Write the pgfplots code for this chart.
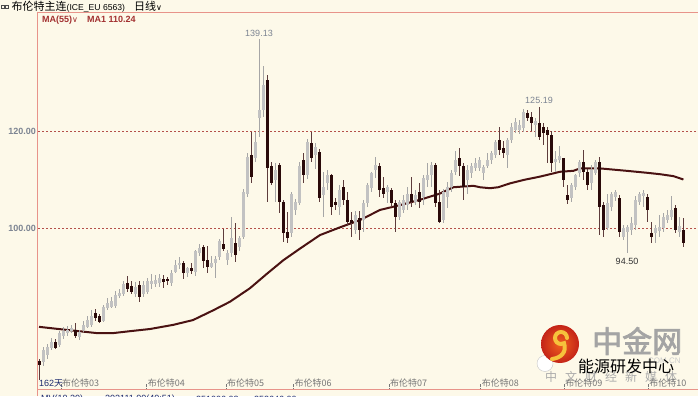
\documentclass[border=0pt]{standalone}
\usepackage{fontspec}
\setmainfont{Liberation Sans}
\newfontfamily\cjk{Noto Sans CJK SC}
\newfontfamily\cjkb[FakeBold=2.5]{Noto Sans CJK SC}
\newfontfamily\dv{DejaVu Sans}
\usepackage{pgfplots}
\usepackage{pgfplotstable}
\pgfplotsset{compat=1.18}
\definecolor{bg}{HTML}{FDF9E9}
\definecolor{axred}{HTML}{E8948A}
\definecolor{gridred}{HTML}{B4504A}
\definecolor{tickgray}{HTML}{7C8492}
\definecolor{upbody}{HTML}{C2C2C2}
\definecolor{upwick}{HTML}{A6A6A6}
\definecolor{dnbody}{HTML}{2A0A0A}
\definecolor{dnwick}{HTML}{5E3C3C}
\definecolor{maline}{HTML}{4A1212}
\definecolor{matext}{HTML}{A23030}
\definecolor{xlab}{HTML}{767676}
\definecolor{navy}{HTML}{1C2A6E}
\definecolor{wmgray}{HTML}{A4A4A4}
\definecolor{wmlight}{HTML}{ABABAB}
\definecolor{swirl}{HTML}{F6C23C}
\definecolor{logoin}{HTML}{F0601E}
\definecolor{logoout}{HTML}{C42418}

\pgfplotstableread{
i O H L C
1 72.3 75.5 71.5 74.8
2 73.8 76.0 73.0 75.5
3 75.3 77.2 74.8 76.5
5 75.8 78.8 75.5 78.3
6 77.8 79.5 77.0 78.7
7 78.3 79.8 77.8 79.0
8 78.8 80.0 78.3 79.3
10 77.6 79.0 76.8 78.6
11 79.0 80.8 78.6 80.0
12 79.6 81.8 79.3 81.0
13 80.0 83.0 79.5 81.8
16 80.9 84.2 80.5 83.7
17 83.5 85.5 83.0 84.6
18 83.8 85.8 83.5 84.9
19 83.9 87.0 83.5 86.2
20 86.0 87.5 85.6 86.6
21 86.5 89.0 86.0 88.5
24 86.5 88.8 85.8 87.9
26 86.5 89.0 85.8 88.2
27 86.9 89.8 86.3 89.0
28 88.4 90.5 87.5 89.1
29 88.5 90.4 87.8 89.2
30 88.6 90.6 87.8 89.7
33 88.7 91.3 88.0 90.8
34 91.0 93.5 90.8 92.4
35 92.3 94.0 91.6 92.9
37 90.7 92.0 89.9 91.7
39 91.0 95.6 90.1 95.2
40 94.9 96.7 94.2 95.9
43 92.0 94.2 91.7 92.9
44 92.8 94.2 89.8 93.6
45 94.1 97.8 93.5 97.4
47 93.4 95.6 92.3 94.8
48 94.8 102.4 94.0 97.9
50 96.2 98.5 95.4 97.9
51 98.3 108.2 97.8 107.6
52 107.2 115.5 106.5 114.8
54 114.5 120.0 113.8 117.9
55 122.8 139.13 119.0 124.5
56 124.5 133.5 123.0 129.7
59 110.0 113.5 105.5 112.1
63 99.0 107.6 98.1 107.2
64 103.8 106.1 102.8 105.5
65 105.2 113.7 104.8 112.8
67 111.0 118.5 110.3 117.9
69 115.2 117.6 112.2 116.9
71 106.9 111.7 102.4 108.6
72 109.3 112.0 108.0 111.0
75 104.5 108.9 102.8 107.9
79 99.6 103.5 98.9 102.8
81 101.7 105.9 99.3 105.2
82 105.2 109.3 104.5 109.0
83 108.3 111.7 107.6 111.4
84 112.1 114.7 110.5 113.1
87 107.6 109.0 105.2 108.6
90 102.4 105.9 101.7 105.4
91 103.8 106.9 103.1 105.9
92 104.8 108.6 103.8 107.2
94 105.5 108.0 104.8 106.9
96 106.5 111.0 104.8 110.4
97 110.0 113.6 108.6 111.0
98 111.0 113.8 108.6 113.1
101 101.7 108.2 101.0 107.6
102 106.5 109.6 104.1 108.6
103 108.6 112.0 107.6 111.4
104 111.7 116.0 111.0 114.1
107 110.0 113.2 107.2 112.1
108 111.4 113.5 110.5 112.9
109 112.4 114.5 111.8 113.5
110 112.4 114.8 111.8 114.1
111 111.4 113.2 110.1 112.6
112 112.9 115.6 112.4 114.1
113 114.1 116.0 113.3 115.5
114 115.2 118.3 114.5 117.9
117 115.2 118.6 112.4 118.3
118 118.3 121.7 117.6 121.0
119 120.4 122.8 119.7 122.1
120 120.4 122.4 119.5 121.4
121 120.7 124.6 119.9 124.1
124 121.4 122.8 119.0 122.2
129 113.8 116.1 111.7 114.4
130 114.1 117.0 113.5 115.0
133 106.2 109.3 105.5 109.0
134 108.6 111.3 107.9 111.0
135 111.4 114.1 110.7 113.8
138 109.3 113.1 107.9 112.1
139 111.4 114.1 111.0 113.8
142 100.0 107.2 99.6 105.2
143 104.5 107.6 103.5 107.2
144 106.5 107.9 105.7 107.6
146 98.3 100.7 97.6 100.0
147 99.3 100.7 94.8 100.2
148 99.6 102.4 98.6 101.0
149 100.7 106.6 99.6 105.9
150 105.5 107.6 104.8 107.2
151 106.6 107.9 104.5 107.3
154 99.0 100.7 96.9 100.0
155 99.5 102.7 98.3 100.2
156 100.0 103.1 99.3 102.4
157 101.7 103.8 101.0 102.8
158 102.4 106.6 101.7 103.8
160 99.3 102.4 98.3 100.5
}\upc

\pgfplotstableread{
i O H L C
0 72.5 73.0 68.5 71.8
4 76.5 77.0 75.0 75.3
9 79.0 80.3 77.3 77.8
14 82.5 83.2 80.8 81.4
15 81.8 82.2 80.3 80.7
22 88.6 90.2 86.8 87.4
23 88.0 89.0 86.3 86.9
25 88.2 89.0 84.8 85.8
31 89.6 90.4 87.6 88.9
32 89.5 90.0 88.3 89.0
36 92.8 93.2 89.5 90.7
38 91.7 92.8 90.5 91.2
41 96.1 96.5 91.8 93.3
42 93.4 96.3 90.8 91.9
46 96.7 99.8 95.3 95.7
49 96.9 101.2 93.1 94.5
53 115.2 120.0 109.3 110.7
57 130.7 131.7 105.5 112.4
58 112.8 113.7 109.0 109.3
60 113.1 113.5 103.2 105.5
61 105.5 105.8 97.2 99.0
62 99.3 103.4 96.9 97.9
66 114.1 115.5 109.3 111.0
68 117.6 120.0 113.8 114.5
70 115.9 116.5 105.5 106.2
73 111.0 111.3 102.8 104.5
74 105.5 106.2 103.7 104.8
76 108.6 110.0 104.8 105.9
77 105.9 107.6 100.5 101.4
78 101.8 103.4 98.3 101.0
80 102.1 103.5 97.6 99.6
85 112.8 113.5 106.5 107.9
86 108.3 110.6 106.3 107.2
88 107.9 108.3 104.5 105.2
89 105.2 105.9 99.3 102.4
93 107.2 110.6 104.5 105.5
95 107.6 109.3 104.1 105.5
99 113.1 113.5 104.5 105.2
100 105.5 107.9 101.0 101.4
105 114.5 116.7 110.9 112.8
106 112.9 113.5 105.9 108.6
115 118.3 121.0 115.2 116.2
116 116.6 118.0 114.5 115.5
122 123.9 124.4 122.2 122.8
123 123.0 124.0 120.2 121.9
125 121.9 125.19 118.3 119.0
126 121.0 121.7 117.3 119.7
127 120.4 121.0 113.5 119.3
128 119.3 120.2 111.7 113.5
131 114.5 114.6 108.5 110.0
132 106.9 109.0 105.0 105.8
136 113.8 116.2 110.0 111.7
137 111.7 112.3 107.9 109.0
140 113.8 114.8 98.6 104.5
141 104.8 105.5 98.3 99.6
145 106.2 106.9 98.3 99.3
152 106.4 107.2 101.4 103.8
153 99.1 101.4 96.9 98.3
159 104.1 104.8 99.0 99.6
161 99.6 102.1 96.2 96.9
}\dnc

\begin{document}
\begin{tikzpicture}
\useasboundingbox (0pt,0pt) rectangle (698pt,396pt);
\clip (0pt,0pt) rectangle (698pt,396pt);
\fill[bg] (0pt,0pt) rectangle (698pt,396pt);

% watermark
\fill[white, draw=gray!45, line width=0.4pt] (545pt,32.5pt) ellipse (8pt and 8pt);
\shade[inner color=logoin, outer color=logoout] (560pt,52pt) circle (19pt);
\draw[swirl, line width=4pt, line cap=round] (567pt,58pt) arc[start angle=0, end angle=300, radius=6pt]
  .. controls (567pt,44pt) and (561pt,38pt) .. (552pt,37pt);
\node[anchor=west, inner sep=0pt, text=wmgray, font=\cjkb\fontsize{30}{30}\selectfont] at (592pt,55pt) {中金网};
\node[anchor=west, inner sep=0pt, text=gray!40, font=\fontsize{8}{8}\selectfont] at (648pt,35pt) {COM.CN};
\foreach \ch [count=\k from 0] in {中,文,财,经,新,媒,体}{
  \node[inner sep=0pt, text=wmlight, font=\cjk\fontsize{12}{12}\selectfont] at (551pt+20pt*\k,19pt) {\ch};
}
\node[inner sep=0pt, text=black, font=\cjk\fontsize{16}{16}\selectfont] at (626pt,29.5pt) {能源研发中心};

\begin{axis}[
  at={(38pt,7pt)}, anchor=south west,
  scale only axis, width=660pt, height=377pt,
  xmin=-0.25, xmax=164.75, ymin=66.73, ymax=144.78,
  axis line style={draw=none},
  tick pos=left,
  ytick={100,120}, yticklabels={100.00,120.00},
  yticklabel style={font=\bfseries\fontsize{9}{10}\selectfont, text=tickgray, inner sep=1pt, xshift=-1pt},
  ymajorgrids,
  y grid style={draw=gridred, line width=0.8pt, dash pattern=on 2pt off 2pt},
  ytick style={draw=none},
  xtick={5.5,26.9,46.75,63.6,87.5,110.4,131.3,152.3},
  xticklabels={布伦特03,布伦特04,布伦特05,布伦特06,布伦特07,布伦特08,布伦特09,布伦特10},
  xticklabel style={anchor=west, font=\cjk\fontsize{9}{10}\selectfont, text=xlab, yshift=6pt, xshift=1pt, inner sep=0pt},
  xtick style={draw=xlab, densely dotted, line width=0.8pt},
  major tick length=5pt, tick align=inside,
  /pgf/number format/assume math mode=true,
]
% MA(55)
\addplot[maline, line width=2pt, line join=round, mark=none] coordinates {
(0,79.6) (6,79.05) (10,78.7) (14.5,78.3) (18.5,78.3) (22.75,78.7) (27.75,79.15)
(33.5,80.0) (38.5,81.0) (43.5,83.0) (47.75,84.8) (52.75,87.6) (57,90.6) (61.1,93.4)
(65.25,95.8) (70.25,98.6) (75.25,100.2) (80.25,101.7) (85.25,103.8) (90.25,104.8)
(95.25,105.9) (100.25,107.2) (103.6,108.5) (108.6,108.8) (110.25,108.5) (112.75,108.3)
(114.8,108.5) (117.75,109.3) (121.1,110.0) (125.25,110.7) (130.25,111.7) (133.6,111.9)
(135.25,112.4) (140.25,112.4) (146.9,111.9) (151.9,111.5) (155.25,111.2) (158.6,110.8) (161.1,110.1)};
% up wicks
\addplot[draw=none, mark=none, forget plot,
  error bars/.cd, y dir=both, y explicit, error mark=none,
  error bar style={draw=upwick, line width=1pt}]
  table[x=i, y expr={(\thisrow{H}+\thisrow{L})/2}, y error expr={(\thisrow{H}-\thisrow{L})/2}] {\upc};
% down wicks
\addplot[draw=none, mark=none, forget plot,
  error bars/.cd, y dir=both, y explicit, error mark=none,
  error bar style={draw=dnwick, line width=1pt}]
  table[x=i, y expr={(\thisrow{H}+\thisrow{L})/2}, y error expr={(\thisrow{H}-\thisrow{L})/2}] {\dnc};
% up bodies
\addplot[draw=none, mark=none, forget plot,
  error bars/.cd, y dir=both, y explicit, error mark=none,
  error bar style={draw=upbody, line width=3pt}]
  table[x=i, y expr={(\thisrow{O}+\thisrow{C})/2}, y error expr={max(abs(\thisrow{C}-\thisrow{O})/2,0.15)}] {\upc};
% down bodies
\addplot[draw=none, mark=none, forget plot,
  error bars/.cd, y dir=both, y explicit, error mark=none,
  error bar style={draw=dnbody, line width=3pt}]
  table[x=i, y expr={(\thisrow{O}+\thisrow{C})/2}, y error expr={max(abs(\thisrow{C}-\thisrow{O})/2,0.15)}] {\dnc};

\node[anchor=south, inner sep=0pt, yshift=3pt, text=tickgray, font=\fontsize{9}{10}\selectfont] at (axis cs:55,139.13) {139.13};
\node[anchor=south, inner sep=0pt, yshift=3pt, text=tickgray, font=\fontsize{9}{10}\selectfont] at (axis cs:125,125.19) {125.19};
\node[anchor=north, inner sep=0pt, yshift=-5pt, text=black!80, font=\fontsize{9}{10}\selectfont] at (axis cs:147,94.8) {94.50};
\end{axis}

% frame lines
\draw[axred, line width=1.6pt] (37.5pt,0pt) -- (37.5pt,384pt);
\draw[axred, line width=1.2pt] (37.5pt,383.5pt) -- (698pt,383.5pt);
\draw[axred, line width=1.2pt] (37.5pt,6.3pt) -- (698pt,6.3pt);

% header
\draw[black!70, line width=0.5pt] (1pt,388pt) rectangle (4pt,391pt);
\draw[black!70, line width=0.5pt] (5.5pt,388pt) rectangle (8.5pt,391pt);
\node[anchor=west, inner sep=0pt, text=black] at (11.5pt,389.5pt)
  {{\cjk\fontsize{11}{12}\selectfont 布伦特主连}{\fontsize{8.6}{9}\selectfont (ICE\_EU 6563)}\hspace{9pt}{\cjk\fontsize{11}{12}\selectfont 日线}{\dv\fontsize{8}{9}\selectfont ∨}};
\node[anchor=west, inner sep=0pt, text=matext, font=\bfseries\fontsize{9}{10}\selectfont] at (42pt,376pt)
  {MA(55){\dv\mdseries\fontsize{8}{9}\selectfont ∨}\hspace{9pt}MA1 110.24};
\node[anchor=west, inner sep=0pt, text=navy, font=\fontsize{9}{10}\selectfont] at (39pt,13pt) {162{\cjk 天}};

% bottom cut status text
\node[anchor=west, inner sep=0pt, text=navy, font=\fontsize{9}{10}\selectfont] at (41pt,-3pt) {MV(10,20)};
\node[anchor=west, inner sep=0pt, text=navy, font=\fontsize{9}{10}\selectfont] at (105pt,-3pt) {202111.00(40:51)};
\node[anchor=west, inner sep=0pt, text=navy, font=\fontsize{9}{10}\selectfont] at (196pt,-3pt) {251006.03};
\node[anchor=west, inner sep=0pt, text=navy, font=\fontsize{9}{10}\selectfont] at (254pt,-3pt) {252646.00};
\end{tikzpicture}
\end{document}
